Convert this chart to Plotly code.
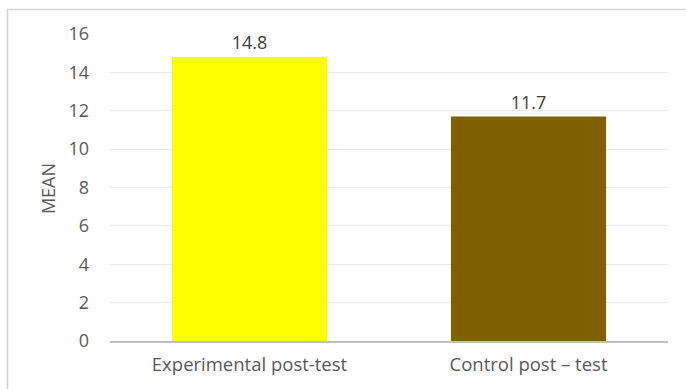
import plotly.graph_objects as go

categories = ["Experimental post-test", "Control post \u2013 test"]
means = [14.8, 11.7]
bar_colors = ["#FFFF00", "#7F6000"]
y_ticks = [0, 2, 4, 6, 8, 10, 12, 14, 16]

FONT = "Open Sans"

fig = go.Figure()
fig.add_trace(go.Bar(
    x=categories,
    y=means,
    marker=dict(color=bar_colors, line=dict(width=0)),
    text=[f"{v:.1f}" for v in means],
    textposition="outside",
    textfont=dict(family=FONT, size=18, color="#404040"),
    cliponaxis=False,
    width=0.556,
))

fig.update_layout(
    width=686, height=389,
    margin=dict(l=110, r=18, t=34, b=48),
    paper_bgcolor="white",
    plot_bgcolor="white",
    showlegend=False,
    font=dict(family=FONT, size=18, color="#595959"),
    xaxis=dict(
        showline=True, linecolor="#BFBFBF", linewidth=2,
        showgrid=False, ticks="", ticklabelstandoff=6,
        tickfont=dict(family=FONT, size=18.5, color="#595959"),
    ),
    yaxis=dict(
        range=[0, 16], tickvals=y_ticks,
        showgrid=True, gridcolor="#EBEBEB", gridwidth=1,
        zeroline=False, showline=False, ticks="",
        ticklabelstandoff=20,
        tickfont=dict(family=FONT, size=18, color="#595959"),
    ),
    annotations=[dict(
        text="MEAN", textangle=-90, xref="paper", yref="paper",
        x=-0.111, y=0.495, showarrow=False,
        font=dict(family=FONT, size=18, color="#595959"),
        xanchor="center", yanchor="middle",
    )],
    shapes=[dict(
        type="rect", xref="paper", yref="paper",
        x0=-0.1837, x1=1.06, y0=-0.2, y1=1.0798,
        line=dict(color="#D4D4D4", width=1.5), fillcolor="rgba(0,0,0,0)",
        layer="below",
    )],
)

fig.write_html(
    "out.html",
    config={"displayModeBar": False},
    post_script="document.body.style.margin='0';document.body.style.padding='0';",
)
